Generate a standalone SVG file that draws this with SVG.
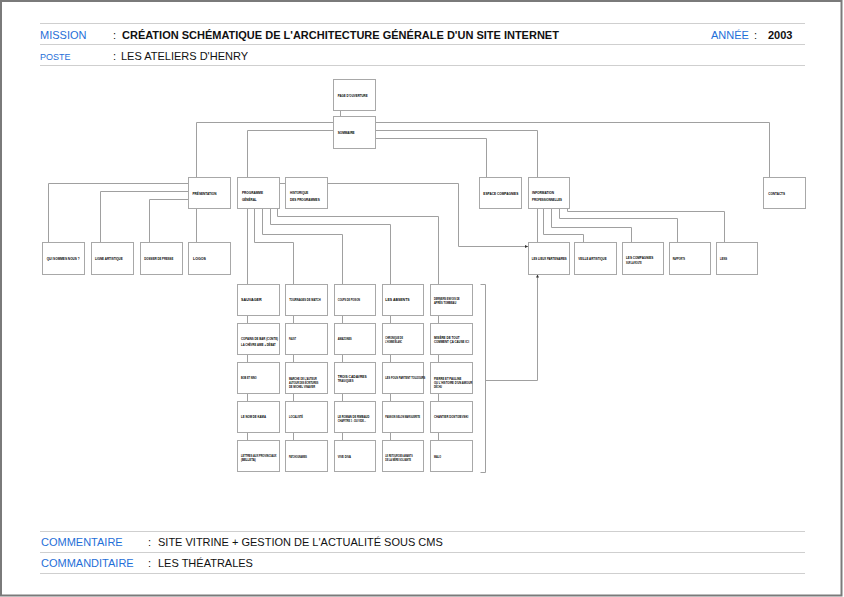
<svg xmlns="http://www.w3.org/2000/svg" width="844" height="597" viewBox="0 0 844 597">
<style>
.bg{fill:#fff}
.frame{fill:none;stroke:#7a7a7a;stroke-width:2}
.rule{stroke:#cfcfcf;stroke-width:1}
.lbl{font-family:"Liberation Sans",Arial,sans-serif;fill:#1f6fd8;font-size:11px}
.lbls{font-family:"Liberation Sans",Arial,sans-serif;fill:#1f6fd8;font-size:9px}
.val{font-family:"Liberation Sans",Arial,sans-serif;fill:#111;font-size:11px}
.valb{font-family:"Liberation Sans",Arial,sans-serif;fill:#111;font-size:11px;font-weight:bold}
.box{fill:#fff;stroke:#a8a8a8;stroke-width:1}
.t{font-family:"Liberation Sans",Arial,sans-serif;font-weight:bold;font-size:3.8px;fill:#000}
.g .t{font-size:3.5px}
.c{fill:none;stroke:#a0a0a0;stroke-width:1}
</style>
<defs>
<marker id="ar" viewBox="0 0 4 4" refX="4" refY="2" markerWidth="3" markerHeight="3" markerUnits="userSpaceOnUse" orient="auto">
<path d="M0,0 L4,2 L0,4 Z" fill="#333"/>
</marker>
</defs>
<rect class="bg" x="0" y="0" width="844" height="597"/>
<rect class="frame" x="1" y="1" width="840.5" height="594.5"/>

<g id="header">
<line class="rule" x1="40" y1="23.5" x2="805" y2="23.5"/>
<line class="rule" x1="40" y1="44.5" x2="805" y2="44.5"/>
<line class="rule" x1="40" y1="65.5" x2="805" y2="65.5"/>
<text class="lbl" x="40" y="39">MISSION</text>
<text class="val" x="113" y="39">:</text>
<text class="valb" x="122" y="39">CRÉATION SCHÉMATIQUE DE L'ARCHITECTURE GÉNÉRALE D'UN SITE INTERNET</text>
<text class="lbl" x="711" y="39">ANNÉE</text>
<text class="val" x="754" y="39">:</text>
<text class="valb" x="768" y="39">2003</text>
<text class="lbls" x="40" y="60">POSTE</text>
<text class="val" x="113" y="60">:</text>
<text class="val" x="121" y="60">LES ATELIERS D'HENRY</text>
</g>

<g id="footer">
<line class="rule" x1="40" y1="531.5" x2="805" y2="531.5"/>
<line class="rule" x1="40" y1="552.5" x2="805" y2="552.5"/>
<line class="rule" x1="40" y1="573.5" x2="805" y2="573.5"/>
<text class="lbl" x="41" y="545.5">COMMENTAIRE</text>
<text class="val" x="148" y="545.5">:</text>
<text class="val" x="158" y="545.5">SITE VITRINE + GESTION DE L'ACTUALITÉ SOUS CMS</text>
<text class="lbl" x="41" y="567">COMMANDITAIRE</text>
<text class="val" x="148" y="567">:</text>
<text class="val" x="158" y="567">LES THÉATRALES</text>
</g>

<g id="connectors">
<path class="c" d="M340.5,110 V116"/>
<path class="c" d="M333,122.5 H196.5 V177"/>
<path class="c" d="M333,130.5 H247.5 V177"/>
<path class="c" d="M375,122.5 H769.5 V177"/>
<path class="c" d="M375,130.5 H537.5 V177"/>
<path class="c" d="M375,138.5 H486.5 V177"/>
<path class="c" d="M279,183.5 H285"/>
<path class="c" d="M327,183.5 H458.5 V246.5 H528" marker-end="url(#ar)"/>
<path class="c" d="M188,183.5 H48.5 V242"/>
<path class="c" d="M188,191.5 H100.5 V242"/>
<path class="c" d="M188,199.5 H149.5 V242"/>
<path class="c" d="M196.5,208 V242"/>
<path class="c" d="M247.5,208 V284"/>
<path class="c" d="M254.5,208 V242.5 H293.5 V284"/>
<path class="c" d="M262.5,208 V234.5 H342.5 V284"/>
<path class="c" d="M270.5,208 V224.5 H390.5 V284"/>
<path class="c" d="M277.5,208 V216.5 H438.5 V284"/>
<path class="c" d="M247.5,316 V323 M247.5,355 V362 M247.5,394 V401 M247.5,433 V440"/>
<path class="c" d="M293.5,316 V323 M293.5,355 V362 M293.5,394 V401 M293.5,433 V440"/>
<path class="c" d="M342.5,316 V323 M342.5,355 V362 M342.5,394 V401 M342.5,433 V440"/>
<path class="c" d="M390.5,316 V323 M390.5,355 V362 M390.5,394 V401 M390.5,433 V440"/>
<path class="c" d="M438.5,316 V323 M438.5,355 V362 M438.5,394 V401 M438.5,433 V440"/>
<path class="c" d="M537.5,208 V242"/>
<path class="c" d="M543.5,208 V234.5 H583.5 V242"/>
<path class="c" d="M551.5,208 V227.5 H631.5 V242"/>
<path class="c" d="M559.5,208 V218.5 H677.5 V242"/>
<path class="c" d="M567.5,208 V211.5 H724.5 V242"/>
<path class="c" d="M480.5,284.5 H485.5 V472.5 H480.5"/>
<path class="c" d="M485.5,380.5 H537.5 V274.5" marker-end="url(#ar)"/>
</g>

<g id="n-page"><rect class="box" x="333.5" y="79.5" width="42" height="31"/><text class="t" x="337.7" y="96.5" textLength="30" lengthAdjust="spacingAndGlyphs">PAGE D'OUVERTURE</text></g>
<g id="n-sommaire"><rect class="box" x="333.5" y="116.5" width="42" height="32"/><text class="t" x="337.7" y="134" textLength="17" lengthAdjust="spacingAndGlyphs">SOMMAIRE</text></g>
<g id="n-presentation"><rect class="box" x="188.5" y="177.5" width="42" height="31"/><text class="t" x="192.5" y="194.5" textLength="24" lengthAdjust="spacingAndGlyphs">PRÉSENTATION</text></g>
<g id="n-programme"><rect class="box" x="237.5" y="177.5" width="42" height="31"/><text class="t" y="194"><tspan x="242" textLength="21" lengthAdjust="spacingAndGlyphs">PROGRAMME</tspan><tspan x="242" y="200.7" textLength="14.7" lengthAdjust="spacingAndGlyphs">GÉNÉRAL</tspan></text></g>
<g id="n-historique"><rect class="box" x="285.5" y="177.5" width="42" height="31"/><text class="t" y="194"><tspan x="290" textLength="18.3" lengthAdjust="spacingAndGlyphs">HISTORIQUE</tspan><tspan x="290" y="200.7" textLength="29.7" lengthAdjust="spacingAndGlyphs">DES PROGRAMMES</tspan></text></g>
<g id="n-espace"><rect class="box" x="479.5" y="177.5" width="42" height="31"/><text class="t" x="483.3" y="194.5" textLength="35" lengthAdjust="spacingAndGlyphs">ESPACE COMPAGNIES</text></g>
<g id="n-information"><rect class="box" x="528.5" y="177.5" width="41" height="31"/><text class="t" y="194"><tspan x="532" textLength="22" lengthAdjust="spacingAndGlyphs">INFORMATION</tspan><tspan x="532" y="200.7" textLength="30" lengthAdjust="spacingAndGlyphs">PROFESSIONNELLES</tspan></text></g>
<g id="n-contacts"><rect class="box" x="763.5" y="177.5" width="42" height="31"/><text class="t" x="768.3" y="194.5" textLength="16.7" lengthAdjust="spacingAndGlyphs">CONTACTS</text></g>

<g id="n-qui"><rect class="box" x="42.5" y="242.5" width="42" height="32"/><text class="t" x="46.7" y="260" textLength="33" lengthAdjust="spacingAndGlyphs">QUI SOMMES NOUS ?</text></g>
<g id="n-ligne"><rect class="box" x="91.5" y="242.5" width="42" height="32"/><text class="t" x="95" y="260" textLength="27.7" lengthAdjust="spacingAndGlyphs">LIGNE ARTISTIQUE</text></g>
<g id="n-dossier"><rect class="box" x="140.5" y="242.5" width="42" height="32"/><text class="t" x="144.3" y="260" textLength="29" lengthAdjust="spacingAndGlyphs">DOSSIER DE PRESSE</text></g>
<g id="n-logos"><rect class="box" x="188.5" y="242.5" width="42" height="32"/><text class="t" x="193" y="260" textLength="13" lengthAdjust="spacingAndGlyphs">LOGOS</text></g>
<g id="n-lieux"><rect class="box" x="528.5" y="242.5" width="41" height="32"/><text class="t" x="531.7" y="260" textLength="35" lengthAdjust="spacingAndGlyphs">LES LIEUX PARTENAIRES</text></g>
<g id="n-veille"><rect class="box" x="574.5" y="242.5" width="42" height="32"/><text class="t" x="578.3" y="260" textLength="28.3" lengthAdjust="spacingAndGlyphs">VEILLE ARTISTIQUE</text></g>
<g id="n-route"><rect class="box" x="622.5" y="242.5" width="41" height="32"/><text class="t" y="259"><tspan x="626" textLength="27.3" lengthAdjust="spacingAndGlyphs">LES COMPAGNIES</tspan><tspan x="626" y="264" textLength="15.7" lengthAdjust="spacingAndGlyphs">SUR LA ROUTE</tspan></text></g>
<g id="n-rapports"><rect class="box" x="669.5" y="242.5" width="41" height="32"/><text class="t" x="672.7" y="260" textLength="12.3" lengthAdjust="spacingAndGlyphs">RAPPORTS</text></g>
<g id="n-liens"><rect class="box" x="716.5" y="242.5" width="41" height="32"/><text class="t" x="720" y="260" textLength="7" lengthAdjust="spacingAndGlyphs">LIENS</text></g>

<g class="g">
<g id="n-r1c1"><rect class="box" x="237.5" y="284.5" width="42" height="31"/><text class="t" x="241" y="301" textLength="20.7" lengthAdjust="spacingAndGlyphs">SAUVAGER</text></g>
<g id="n-r1c2"><rect class="box" x="285.5" y="284.5" width="42" height="31"/><text class="t" x="289.3" y="301" textLength="31.3" lengthAdjust="spacingAndGlyphs">TOURNAGES DE MATCH</text></g>
<g id="n-r1c3"><rect class="box" x="334.5" y="284.5" width="41" height="31"/><text class="t" x="337.7" y="301" textLength="22.3" lengthAdjust="spacingAndGlyphs">COUPS DE POISON</text></g>
<g id="n-r1c4"><rect class="box" x="382.5" y="284.5" width="41" height="31"/><text class="t" x="385.3" y="301" textLength="24.3" lengthAdjust="spacingAndGlyphs">LES ABSENTS</text></g>
<g id="n-r1c5"><rect class="box" x="430.5" y="284.5" width="42" height="31"/><text class="t" y="300"><tspan x="434" textLength="25.7" lengthAdjust="spacingAndGlyphs">DERNIERS ENVOIS DE</tspan><tspan x="434" y="304.3" textLength="22.3" lengthAdjust="spacingAndGlyphs">APRÈS TOMBEAU</tspan></text></g>

<g id="n-r2c1"><rect class="box" x="237.5" y="323.5" width="42" height="31"/><text class="t" y="339.5"><tspan x="241" textLength="37" lengthAdjust="spacingAndGlyphs">COPAINS DE BAR (CONTE)</tspan><tspan x="241" y="346.2" textLength="34.7" lengthAdjust="spacingAndGlyphs">LA CHÈVRE AMIE + DÉBAT</tspan></text></g>
<g id="n-r2c2"><rect class="box" x="285.5" y="323.5" width="42" height="31"/><text class="t" x="289" y="340" textLength="7" lengthAdjust="spacingAndGlyphs">FAUST</text></g>
<g id="n-r2c3"><rect class="box" x="334.5" y="323.5" width="41" height="31"/><text class="t" x="337.7" y="340" textLength="14" lengthAdjust="spacingAndGlyphs">AMAZONES</text></g>
<g id="n-r2c4"><rect class="box" x="382.5" y="323.5" width="41" height="31"/><text class="t" y="339"><tspan x="385.3" textLength="17.7" lengthAdjust="spacingAndGlyphs">CHRONIQUE DE</tspan><tspan x="385.3" y="343.3" textLength="16.7" lengthAdjust="spacingAndGlyphs">L'HOMME BLANC</tspan></text></g>
<g id="n-r2c5"><rect class="box" x="430.5" y="323.5" width="42" height="31"/><text class="t" y="339"><tspan x="434" textLength="25.7" lengthAdjust="spacingAndGlyphs">MISÈRE DE TOUT</tspan><tspan x="434" y="343.3" textLength="35" lengthAdjust="spacingAndGlyphs">COMMENT ÇA CAUSE ICI</tspan></text></g>

<g id="n-r3c1"><rect class="box" x="237.5" y="362.5" width="42" height="31"/><text class="t" x="241" y="379" textLength="15.7" lengthAdjust="spacingAndGlyphs">BOB ET NINO</text></g>
<g id="n-r3c2"><rect class="box" x="285.5" y="362.5" width="42" height="31"/><text class="t" y="379.5"><tspan x="289" textLength="27.7" lengthAdjust="spacingAndGlyphs">MARCHE DE L'AUTEUR</tspan><tspan x="289" y="383.9" textLength="29.3" lengthAdjust="spacingAndGlyphs">AUTOUR DES ÉCRITURES</tspan><tspan x="289" y="388.3" textLength="26" lengthAdjust="spacingAndGlyphs">DE MICHEL VINAVER</tspan></text></g>
<g id="n-r3c3"><rect class="box" x="334.5" y="362.5" width="41" height="31"/><text class="t" y="378"><tspan x="337.7" textLength="29" lengthAdjust="spacingAndGlyphs">TROIS CADAVRES</tspan><tspan x="337.7" y="382.3" textLength="15.7" lengthAdjust="spacingAndGlyphs">TRAGIQUES</tspan></text></g>
<g id="n-r3c4"><rect class="box" x="382.5" y="362.5" width="41" height="31"/><text class="t" transform="translate(385.3,379) scale(0.73,1)" x="0" y="0">LES FOUS PARTENT TOUJOURS</text></g>
<g id="n-r3c5"><rect class="box" x="430.5" y="362.5" width="42" height="31"/><text class="t" y="379.5"><tspan x="434" textLength="27.3" lengthAdjust="spacingAndGlyphs">PIERRE ET PAULINE</tspan></text><text class="t" transform="translate(434,383.9) scale(0.78,1)" x="0" y="0">OU L'HISTOIRE D'UN AMOUR</text><text class="t" x="434" y="388.3" textLength="8" lengthAdjust="spacingAndGlyphs">DÉCHU</text></g>

<g id="n-r4c1"><rect class="box" x="237.5" y="401.5" width="42" height="31"/><text class="t" x="241" y="418" textLength="25" lengthAdjust="spacingAndGlyphs">LE NOM DE KAMA</text></g>
<g id="n-r4c2"><rect class="box" x="285.5" y="401.5" width="42" height="31"/><text class="t" x="289" y="418" textLength="14" lengthAdjust="spacingAndGlyphs">LOCALISTÉ</text></g>
<g id="n-r4c3"><rect class="box" x="334.5" y="401.5" width="41" height="31"/><text class="t" y="418"><tspan x="337.7" textLength="31.7" lengthAdjust="spacingAndGlyphs">LE ROMAN DE RIMBAUD</tspan><tspan x="337.7" y="422.3" textLength="28.3" lengthAdjust="spacingAndGlyphs">CHAPITRE 1 : DU VIDE...</tspan></text></g>
<g id="n-r4c4"><rect class="box" x="382.5" y="401.5" width="41" height="31"/><text class="t" transform="translate(385.3,418) scale(0.66,1)" x="0" y="0">PASSION SELON MARGUERITE</text></g>
<g id="n-r4c5"><rect class="box" x="430.5" y="401.5" width="42" height="31"/><text class="t" transform="translate(434,418) scale(0.8,1)" x="0" y="0">CHANTIER DOSTOÏEVSKI</text></g>

<g id="n-r5c1"><rect class="box" x="237.5" y="440.5" width="42" height="31"/><text class="t" y="457"><tspan x="241" textLength="35.5" lengthAdjust="spacingAndGlyphs">LETTRES AUX PROVINCIAUX</tspan><tspan x="241" y="461.3" textLength="14.7" lengthAdjust="spacingAndGlyphs">(BELLETA)</tspan></text></g>
<g id="n-r5c2"><rect class="box" x="285.5" y="440.5" width="42" height="31"/><text class="t" x="289" y="458" textLength="18" lengthAdjust="spacingAndGlyphs">PATCHOUNAMIES</text></g>
<g id="n-r5c3"><rect class="box" x="334.5" y="440.5" width="41" height="31"/><text class="t" x="337.7" y="458" textLength="13.3" lengthAdjust="spacingAndGlyphs">VIVE DIVA</text></g>
<g id="n-r5c4"><rect class="box" x="382.5" y="440.5" width="41" height="31"/><text class="t" y="457"><tspan x="385.3" textLength="27.3" lengthAdjust="spacingAndGlyphs">LE RETOUR DES AMANTS</tspan><tspan x="385.3" y="461.3" textLength="25.7" lengthAdjust="spacingAndGlyphs">DE LA MÈRE SOLVANTE</tspan></text></g>
<g id="n-r5c5"><rect class="box" x="430.5" y="440.5" width="42" height="31"/><text class="t" x="434" y="458" textLength="7" lengthAdjust="spacingAndGlyphs">MALO</text></g>
</g>
</svg>
